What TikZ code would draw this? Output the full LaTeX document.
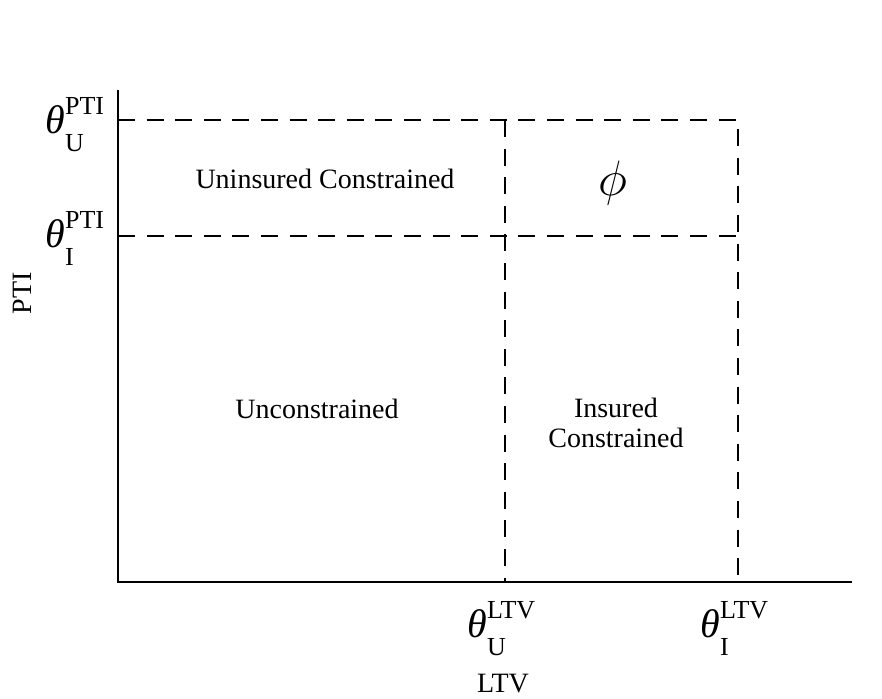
\documentclass[tikz,border=0pt]{standalone}
\usepackage{fontspec}
\setmainfont{Liberation Serif}
% threshold label: theta with a raised and a lowered tag
\newcommand{\thr}[2]{{\fontsize{20}{22}\selectfont\itshape θ}{\fontsize{13}{14}\selectfont\rlap{\raisebox{9.5pt}{#1}}\raisebox{-9pt}{#2}}}
\tikzset{
  region/.style={font=\fontsize{14}{15}\selectfont, align=center, inner sep=0pt},
  bound/.style={line width=1pt, dash pattern=on 8.5pt off 5.8pt},
  lbl/.style={inner sep=0pt, anchor=base west}
}
\begin{document}
\begin{tikzpicture}[x=0.5pt, y=0.5pt]
\useasboundingbox (0,0) rectangle (882,698);
% axes
\coordinate (O) at (118,116);
\coordinate (ytop) at (118,608);
\coordinate (xend) at (852,116);
\draw[line width=1pt] (ytop)--(O)--(xend);
% constraint bounds
\coordinate (pu) at (118,578);
\coordinate (pi) at (118,462);
\coordinate (lu) at (505,116);
\coordinate (li) at (738,116);
\coordinate (corner) at (738,578);
\coordinate (lutop) at (505,578);
\coordinate (limid) at (738,462);
\draw[bound] (pu)--(corner)--(li);
\draw[bound] (pi)--(limid);
\draw[bound] (lutop)--(lu);
% thresholds
\foreach \n/\p/\s/\sub in {tpu/{45,565}/PTI/U, tpi/{45,451}/PTI/I, tlu/{467,61}/LTV/U, tli/{700,61}/LTV/I}
{
    \node[lbl] (\n) at (\p) {\thr{\s}{\sub}};
}
\node[region, anchor=base] (ltv) at (503,6) {LTV};
\node[region, rotate=90] (pti) at (22,405) {PTI};
% regions
\node[region, anchor=base] (uc) at (325,510) {Uninsured Constrained};
\node[font=\fontsize{23}{24}\selectfont, inner sep=0pt] (phi) at (613,515) {$\phi$};
\node[region, anchor=base] (un) at (317,280) {Unconstrained};
\node[region, anchor=base] (ic) at (616,251) {Insured\\Constrained};
\end{tikzpicture}
\end{document}
